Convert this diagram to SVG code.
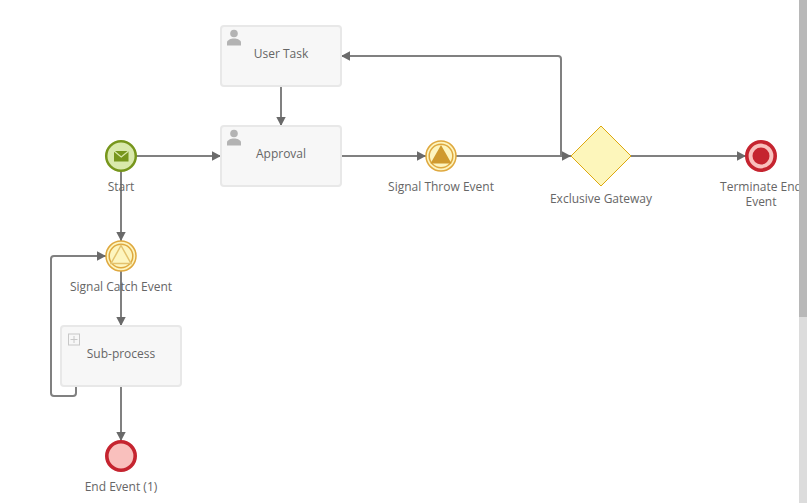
<svg xmlns="http://www.w3.org/2000/svg" width="807" height="503" viewBox="0 0 807 503">
<style>
text{font-family:"Open Sans","Noto Sans","Liberation Sans",sans-serif;font-size:12px;fill:#666;text-anchor:middle}
.task{fill:#f7f7f7;stroke:#e8e8e8;stroke-width:2}
.conn{fill:none;stroke:#808080;stroke-width:2}
.user{fill:#b3b3b3}
</style>
<defs>
<marker id="arrow" markerUnits="userSpaceOnUse" markerWidth="10" markerHeight="11" refX="9" refY="5" orient="auto"><path d="M0 0.300L9 5L0 9.700Z" fill="#6a6a6a"/></marker>
<g id="usericon"><circle cx="0" cy="-5.500" r="3.800" class="user"/><path class="user" d="M-7 6.500V3.500C-7 1 -3 -0.500 0 -0.500C3 -0.500 7 1 7 3.500V6.500Z"/></g>
</defs>
<g id="connectors">
<path class="conn" marker-end="url(#arrow)" d="M281 86V126"/>
<path class="conn" marker-end="url(#arrow)" d="M136 156H221"/>
<path class="conn" marker-end="url(#arrow)" d="M341 156H426"/>
<path class="conn" marker-end="url(#arrow)" d="M456 156H571"/>
<path class="conn" marker-end="url(#arrow)" d="M561 156V59Q561 56 558 56H341"/>
<path class="conn" marker-end="url(#arrow)" d="M631 156H746"/>
<path class="conn" marker-end="url(#arrow)" d="M121 171V241"/>
<path class="conn" marker-end="url(#arrow)" d="M121 271V326"/>
<path class="conn" marker-end="url(#arrow)" d="M76 386V393Q76 396 73 396H54Q51 396 51 393V259Q51 256 54 256H106"/>
<path class="conn" marker-end="url(#arrow)" d="M121 386V441"/>
</g>
<g id="user-task"><rect class="task" x="221" y="26" width="120" height="60" rx="3"/><use href="#usericon" x="234" y="39"/><text x="281" y="58">User Task</text></g>
<g id="approval"><rect class="task" x="221" y="126" width="120" height="60" rx="3"/><use href="#usericon" x="234" y="139"/><text x="281" y="158">Approval</text></g>
<g id="start"><circle cx="121" cy="156" r="14.800" fill="#d9e9ab" stroke="#77961c" stroke-width="2.500"/><rect x="114" y="151" width="14.500" height="10.500" fill="#77961c"/><path d="M114 151L121.250 157L128.500 151" fill="none" stroke="#d9e9ab" stroke-width="1.200"/><text x="121" y="191">Start</text></g>
<g id="signal-catch"><circle cx="121" cy="256" r="15" fill="#fdf5bf" stroke="#dfa83e" stroke-width="1.500"/><circle cx="121" cy="256" r="11.800" fill="#fdf5bf" stroke="#dfa83e" stroke-width="1.500"/><path d="M121 245.500L131 263.500H111Z" fill="#fdf5bf" stroke="#e3c26e" stroke-width="1.500"/><text x="121" y="291">Signal Catch Event</text></g>
<g id="sub-process"><rect class="task" x="61" y="326" width="120" height="60" rx="3"/><rect x="68.500" y="334" width="11" height="11" fill="#f7f7f7" stroke="#c8c8c8"/><path d="M70.500 339.500H77.500M74 336V343" stroke="#c8c8c8" fill="none"/><text x="121" y="358">Sub-process</text></g>
<g id="end-event"><circle cx="121" cy="456" r="14.200" fill="#f9c0bd" stroke="#c5242f" stroke-width="3.600"/><text x="121" y="491">End Event (1)</text></g>
<g id="signal-throw"><circle cx="441" cy="156" r="15" fill="#fdf5bf" stroke="#dfa83e" stroke-width="1.500"/><circle cx="441" cy="156" r="11.800" fill="#fdf5bf" stroke="#dfa83e" stroke-width="1.500"/><path d="M441 145L451.500 163.500H430.500Z" fill="#cf9a2e"/><text x="441" y="191">Signal Throw Event</text></g>
<g id="gateway"><path d="M601 126L631 156L601 186L571 156Z" fill="#fdf6bb" stroke="#dda80f" stroke-width="1"/><text x="601" y="203">Exclusive Gateway</text></g>
<g id="terminate"><circle cx="761" cy="156" r="14.200" fill="#f9c0bd" stroke="#c5242f" stroke-width="3.600"/><circle cx="761" cy="156" r="8.500" fill="#c5242f"/><text x="761" y="191">Terminate End<tspan x="761" dy="15">Event</tspan></text></g>
<rect x="799" y="0" width="8" height="317" fill="#b8b8b8"/>
<rect x="799" y="317" width="8" height="186" fill="#dcdcdc"/>
</svg>
